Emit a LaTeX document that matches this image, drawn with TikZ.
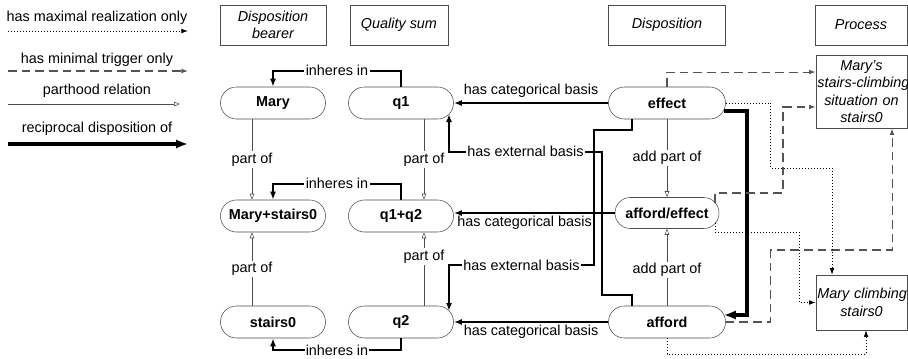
\documentclass[tikz,border=0pt]{standalone}
\usepackage{fontspec}
\setmainfont{Liberation Sans}
\usetikzlibrary{arrows.meta,calc}

\begin{document}
\fontsize{10.8}{13}\selectfont
\begin{tikzpicture}[x=0.75pt,y=-0.75pt]
\tikzset{pill/.style={draw=gray!60!black,rounded corners=11.9pt,minimum width=78.75pt,minimum height=24pt,inner sep=1pt,font=\bfseries},
  head/.style={draw=gray!60!black,minimum height=30pt,inner sep=1pt,align=center,font=\itshape},
  proc/.style={draw=gray!60!black,inner xsep=1pt,inner ysep=0pt,align=center,font=\itshape,text width=66.25pt},
  part/.style={gray!60!black,-{Triangle[open,length=4.5pt,width=3.5pt]}},
  bas/.style={line width=1.4pt,-{Latex[length=6pt,width=4.5pt]}},
  recip/.style={line width=3pt,-{Latex[length=9pt,width=7pt]}},
  trig/.style={gray!65!black,line width=0.8pt,dash pattern=on 6.5pt off 3.75pt,-{Latex[length=5pt,width=3.5pt]}},
  maxr/.style={line width=0.6pt,dash pattern=on 0.75pt off 1.5pt,-{Latex[length=5pt,width=3.5pt]}},
  lbl/.style={fill=white,text=black,inner sep=1pt}}
\useasboundingbox (0,0) rectangle (908,358);

% legend
\node (lmax) at (97,18) {has maximal realization only};
\draw[maxr] (8,31) -- (188,31);
\node (ltrig) at (97,60) {has minimal trigger only};
\draw[trig] (8,71) -- (188,71);
\node (lpart) at (97,91) {parthood relation};
\draw[part] (8,104) -- (180,104);
\node (lrecip) at (97,129) {reciprocal disposition of};
\draw[recip] (8,144) -- (188,144);

% column heads
\node[head,minimum width=79.5pt] (hbear) at (273,25) {Disposition\\bearer};
\node[head,minimum width=73.5pt] (hsum) at (399,25) {Quality sum};
\node[head,minimum width=87.75pt] (hdisp) at (667,25) {Disposition};
\node[head,minimum width=69pt] (hproc) at (861,25) {Process};

% entities
\node[pill] (mary) at (273,103) {Mary};
\node[pill] (q1) at (401,103) {q1};
\node[pill] (marys) at (273,216) {Mary+stairs0};
\node[pill] (q12) at (401,216) {q1+q2};
\node[pill] (stairs) at (273,322) {stairs0};
\node[pill] (q2) at (401,322) {q2};
\node[pill,minimum width=87.75pt] (effect) at (667,103) {effect};
\node[pill,minimum width=78pt,minimum height=23.25pt,rounded corners=11.5pt] (affeff) at (667,213) {afford/effect};
\node[pill,minimum width=87.75pt] (afford) at (667,322) {afford};
\node[proc,minimum height=54.75pt] (sit) at (861.5,91.5) {Mary's\\\mbox{stairs-climbing}\\\mbox{situation on}\\stairs0};
\node[proc,minimum height=41.25pt] (climb) at (861.5,302.5) {\mbox{Mary climbing}\\stairs0};

% inheres in
\draw[bas] (q1.north) -- ++(0,-16) -| node[lbl,pos=0.25] {inheres in} (mary.north);
\draw[bas] (q12.north) -- ++(0,-16) -| node[lbl,pos=0.25] {inheres in} (marys.north);
\draw[bas] (q2.south) -- ++(0,12) -| node[lbl,inner sep=0.5pt,pos=0.25] {inheres in} (stairs.south);

% parthood
\draw[part] ([xshift=-15.75pt]mary.south) -- node[lbl] {part of} ([xshift=-15.75pt]marys.north);
\draw[part] ([xshift=17.25pt]q1.south) -- node[lbl] {part of} ([xshift=17.25pt]q12.north);
\draw[part] ([xshift=-15.75pt]stairs.north) -- node[lbl] {part of} ([xshift=-15.75pt]marys.south);
\draw[part] ([xshift=17.25pt]q2.north) -- node[lbl,pos=0.67] {part of} ([xshift=17.25pt]q12.south);
\draw[part] (effect.south) -- node[lbl] {add part of} (affeff.north);
\draw[part] (afford.north) -- node[lbl,pos=0.47] {add part of} (affeff.south);

% bases
\draw[bas] (effect.west) -- node[above] {has categorical basis} (q1.east);
\draw[bas] (affeff.west) -- node[below,inner sep=1.5pt,pos=0.56] {has categorical basis} (affeff.west -| q12.east);
\draw[bas] (afford.west) -- node[below,inner sep=1.5pt] {has categorical basis} (q2.east);
\draw[bas] ([xshift=-26.25pt]effect.south) -- ++(0,11) -- ++(-38,0) -- ++(0,135) -| node[lbl,pos=0.25] {has external basis} ($(q2.center)+(48,-11)$);
\draw[bas] ([xshift=-26.25pt]afford.north) -- ++(0,-11) -- ++(-30,0) -- ++(0,-143) -| node[lbl,pos=0.25] {has external basis} ($(q1.center)+(48,11)$);
\draw[recip] ([xshift=-1.5pt,yshift=-6pt]effect.east) -- ++(23,0) |- ([xshift=-1.5pt,yshift=5.25pt]afford.east);

% triggers and realizations
\draw[trig] (effect.north) |- ([yshift=14.6pt]sit.west);
\draw[trig] ($(affeff.center)+(48,-10)$) -- ++(0,-10) -- ++(68,0) |- ([yshift=-11.6pt]sit.west);
\draw[trig] (afford.east) -- ++(45,0) -- ++(0,-72) -| ([xshift=22.9pt]sit.south);
\draw[maxr] (effect.east) -- ++(45,0) -- ++(0,65) -| ([xshift=-22.1pt]climb.north);
\draw[maxr] ($(affeff.center)+(48,10)$) -- ++(0,9) -- ++(84,0) |- (climb.west);
\draw[maxr] (afford.south) -- ++(0,16) -| ([xshift=3.4pt]climb.south);
\end{tikzpicture}
\end{document}
